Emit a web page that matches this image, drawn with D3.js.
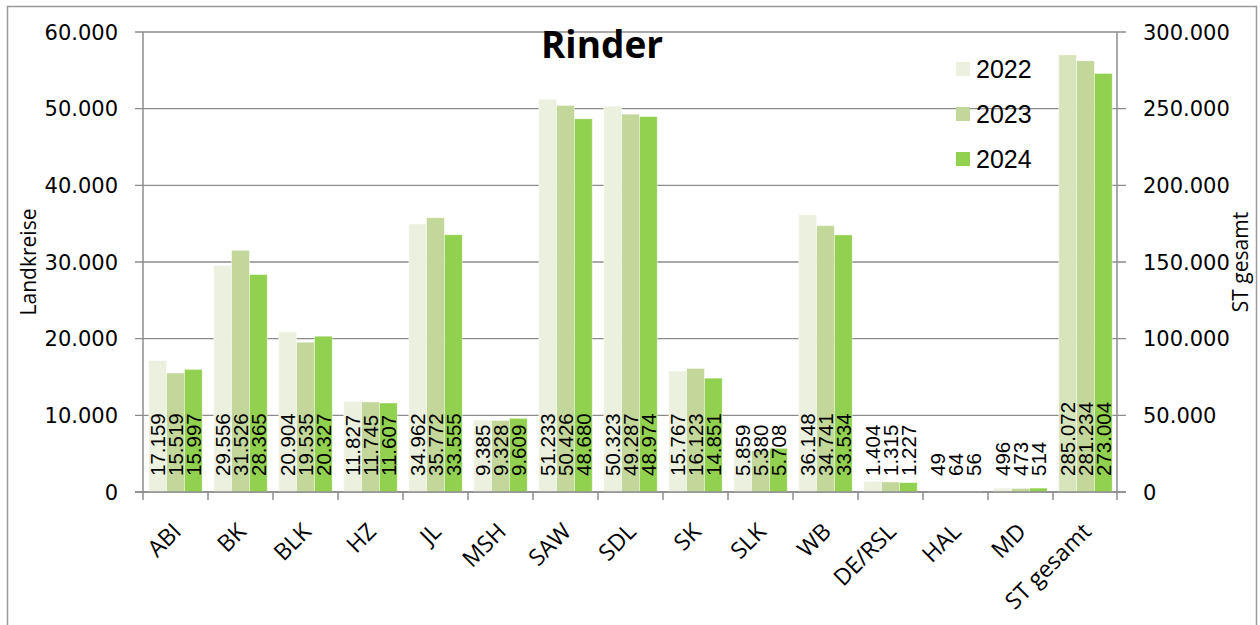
<!DOCTYPE html>
<html>
<head>
<meta charset="utf-8">
<script src="https://cdn.jsdelivr.net/npm/d3@7"></script>
<style>
  body { margin: 0; background: #fff; }
  svg { display: block; }
  .tick-label { font-family: "DejaVu Sans", sans-serif; font-size: 21px; fill: #000; }
  .cat-label { font-family: "Open Sans", sans-serif; font-size: 23px; fill: #000; }
  .val-label { font-family: "Liberation Sans", Arial, sans-serif; font-size: 20.5px; fill: #000; }
</style>
</head>
<body>
<div id="chart"></div>
<script>
// data
var categories = ["ABI", "BK", "BLK", "HZ", "JL", "MSH", "SAW", "SDL", "SK", "SLK", "WB", "DE/RSL", "HAL", "MD"];
var years = ["2022", "2023", "2024"];
var rinder2022 = [17159, 29556, 20904, 11827, 34962, 9385, 51233, 50323, 15767, 5859, 36148, 1404, 49, 496];
var rinder2023 = [15519, 31526, 19535, 11745, 35772, 9328, 50426, 49287, 16123, 5380, 34741, 1315, 64, 473];
var rinder2024 = [15997, 28365, 20327, 11607, 33555, 9609, 48680, 48974, 14851, 5708, 33534, 1227, 56, 514];
var totalLabel = "ST gesamt";
var totals = [285072, 281234, 273004]; // 2022, 2023, 2024, right axis

var leftTicks = [0, 10000, 20000, 30000, 40000, 50000, 60000];
var rightTicks = [0, 50000, 100000, 150000, 200000, 250000, 300000];

var colors = ["#EBF1DE", "#C4D79B", "#92D050"];
var totalColors = ["#D8E4BC", "#C4D79B", "#92D050"];

var de = d3.formatLocale({decimal: ",", thousands: ".", grouping: [3], currency: ["", "€"]});
var fmt = de.format(",d");

var width = 1260, height = 625;

var svg = d3.select("#chart").append("svg")
  .attr("width", width)
  .attr("height", height);

// outer frame
svg.append("rect")
  .attr("x", 7.5).attr("y", 6.5)
  .attr("width", 1249).attr("height", 640)
  .attr("fill", "none")
  .attr("stroke", "#999")
  .attr("stroke-width", 1.5);

var allCats = categories.concat([totalLabel]);

var x0 = d3.scaleBand()
  .domain(allCats)
  .range([143, 1118])
  .paddingInner(0.178)
  .paddingOuter(0.089);

var x1 = d3.scaleBand()
  .domain(years)
  .range([0, x0.bandwidth()]);

var yLeft = d3.scaleLinear().domain([0, 60000]).range([492, 32]);
var yRight = d3.scaleLinear().domain([0, 300000]).range([492, 32]);

var gridColor = "#8c8c8c";

// gridlines with ticks on both sides
svg.append("g").selectAll("line")
  .data(leftTicks)
  .enter().append("line")
  .attr("x1", 135).attr("x2", 1126)
  .attr("y1", d => yLeft(d)).attr("y2", d => yLeft(d))
  .attr("stroke", gridColor)
  .attr("stroke-width", 1.3);

// rows of bar data
var rows = categories.map(function(c, i) {
  return {cat: c, vals: [rinder2022[i], rinder2023[i], rinder2024[i]], scale: yLeft, cols: colors};
});
rows.push({cat: totalLabel, vals: totals, scale: yRight, cols: totalColors});

var groups = svg.append("g").selectAll("g")
  .data(rows)
  .enter().append("g")
  .attr("transform", d => `translate(${x0(d.cat)},0)`);

groups.selectAll("rect")
  .data(d => d.vals.map((v, j) => ({year: years[j], v: v, scale: d.scale, col: d.cols[j]})))
  .enter().append("rect")
  .attr("x", d => x1(d.year))
  .attr("width", x1.bandwidth())
  .attr("y", d => d.scale(d.v))
  .attr("height", d => 492 - d.scale(d.v))
  .attr("fill", d => d.col)
  .attr("stroke", "rgba(255,255,255,0.55)")
  .attr("stroke-width", 0.8);

// value labels, rotated, starting at the bar base
groups.selectAll("text")
  .data(d => d.vals.map((v, j) => ({year: years[j], v: v})))
  .enter().append("text")
  .attr("class", "val-label")
  .attr("transform", d => `translate(${x1(d.year) + x1.bandwidth() / 2},476) rotate(-90)`)
  .attr("dy", "0.36em")
  .attr("text-anchor", "start")
  .text(d => fmt(d.v));

// axes lines
svg.append("line")
  .attr("x1", 143).attr("x2", 143).attr("y1", 32).attr("y2", 492)
  .attr("stroke", gridColor).attr("stroke-width", 1.5);
svg.append("line")
  .attr("x1", 1117).attr("x2", 1117).attr("y1", 32).attr("y2", 492)
  .attr("stroke", gridColor).attr("stroke-width", 1.5);
svg.append("line")
  .attr("x1", 135).attr("x2", 1126).attr("y1", 492).attr("y2", 492)
  .attr("stroke", gridColor).attr("stroke-width", 1.5);

// category tick marks at band edges
var edges = allCats.map(c => x0(c) - x0.step() * x0.paddingInner() / 2);
edges.push(1117);
svg.append("g").selectAll("line")
  .data(edges)
  .enter().append("line")
  .attr("x1", d => d).attr("x2", d => d)
  .attr("y1", 492).attr("y2", 500)
  .attr("stroke", gridColor).attr("stroke-width", 1.5);

// y tick labels
svg.append("g").selectAll("text")
  .data(leftTicks)
  .enter().append("text")
  .attr("class", "tick-label")
  .attr("x", 118)
  .attr("y", d => yLeft(d))
  .attr("dy", "0.36em")
  .attr("text-anchor", "end")
  .text(d => fmt(d));

svg.append("g").selectAll("text")
  .data(rightTicks)
  .enter().append("text")
  .attr("class", "tick-label")
  .attr("x", 1143)
  .attr("y", d => yRight(d))
  .attr("dy", "0.36em")
  .attr("text-anchor", "start")
  .text(d => fmt(d));

// category labels
svg.append("g").selectAll("text")
  .data(allCats)
  .enter().append("text")
  .attr("class", "cat-label")
  .attr("text-anchor", "end")
  .attr("transform", d => `translate(${x0(d) + x0.bandwidth() / 2 + 7},533) rotate(-45)`)
  .text(d => d);

// axis titles
svg.append("text")
  .attr("transform", "translate(36,262) rotate(-90)")
  .attr("text-anchor", "middle")
  .attr("font-family", "Open Sans, sans-serif")
  .attr("font-size", "21px")
  .text("Landkreise");

svg.append("text")
  .attr("transform", "translate(1248,262) rotate(-90)")
  .attr("text-anchor", "middle")
  .attr("font-family", "Open Sans, sans-serif")
  .attr("font-size", "21px")
  .text("ST gesamt");

// title
svg.append("text")
  .attr("x", 602).attr("y", 58)
  .attr("text-anchor", "middle")
  .attr("font-family", "Open Sans, sans-serif")
  .attr("font-weight", "bold")
  .attr("font-size", "37px")
  .text("Rinder");

// legend
var legend = svg.append("g").selectAll("g")
  .data(years)
  .enter().append("g")
  .attr("transform", (d, i) => `translate(956,${62 + i * 45})`);

legend.append("rect")
  .attr("width", 14).attr("height", 14)
  .attr("fill", (d, i) => colors[i]);

legend.append("text")
  .attr("x", 20).attr("y", 16)
  .attr("font-family", "Liberation Sans, Arial, sans-serif")
  .attr("font-size", "25px")
  .text(d => d);
</script>
</body>
</html>
